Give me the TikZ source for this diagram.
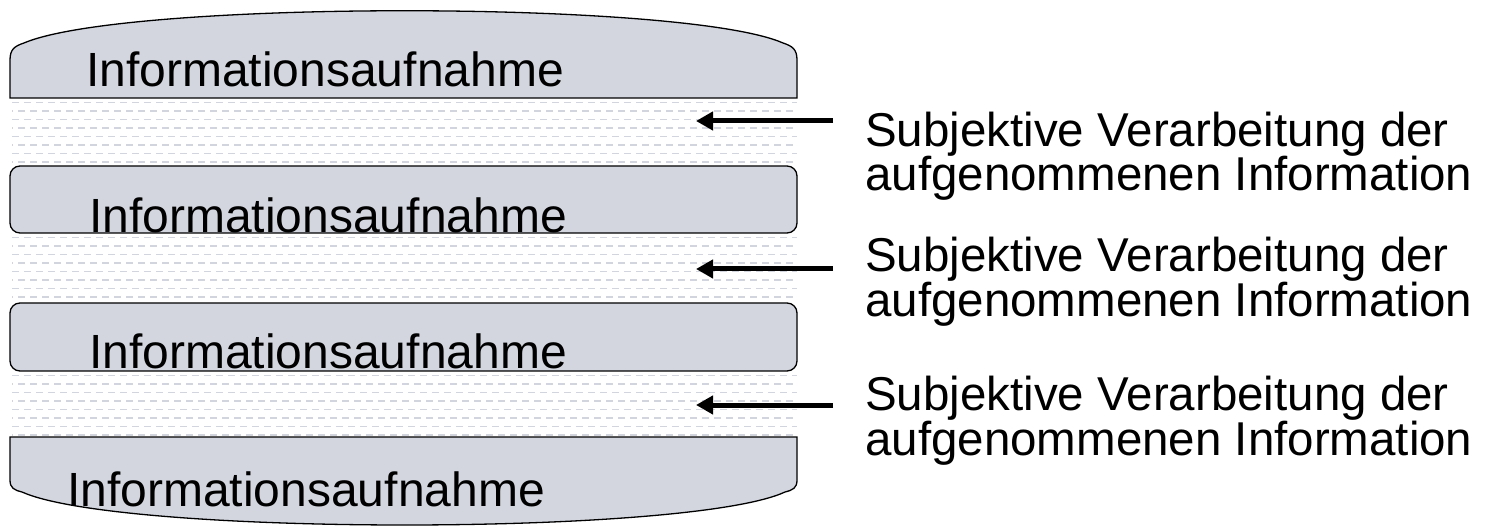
\documentclass[tikz,border=0pt]{standalone}
\usepackage{fontspec}
\setmainfont{Liberation Sans}
\usetikzlibrary{arrows.meta}
\definecolor{layerfill}{RGB}{211,214,223}
\definecolor{hatch}{RGB}{210,213,222}
\tikzset{
  layer/.style={fill=layerfill, draw=black, line width=1.3pt},
  layertext/.style={anchor=base west, inner sep=0pt, font=\fontsize{48}{48}\selectfont},
  note/.style={anchor=base west, inner sep=0pt, font=\fontsize{47.5}{47.5}\selectfont},
  pointer/.style={line width=5pt, -{Triangle[length=17pt,width=18pt]}},
  hatchrow/.style={draw=hatch, line width=1.6pt, dash pattern=on 7pt off 5pt},
}
\begin{document}
\begin{tikzpicture}[x=1pt,y=-1pt]
\useasboundingbox (0,0) rectangle (1488,526);

% dashed processing bands between the layers
\foreach \top in {98,233,371}{
  \foreach \r in {0,...,7}{
    \pgfmathsetmacro\yy{\top+4.5+\r*8.5}
    \pgfmathsetmacro\ph{mod(\r,2)*6}
    \draw[hatchrow, dash phase=\ph pt] (12,\yy) -- (797,\yy);
  }
}

% top layer with arched roof
\draw[layer] (10,98) -- (10,60) .. controls (10,49) and (15,46) .. (24,43)
  .. controls (125,0) and (685,0) .. (783,43)
  .. controls (792,46) and (797,49) .. (797,60) -- (797,98) -- cycle;

% middle layers
\draw[layer, rounded corners=10pt] (10,166) rectangle (797,233);
\draw[layer, rounded corners=10pt] (10,303) rectangle (797,371);

% bottom layer with arched floor
\draw[layer] (10,437) -- (10,480) .. controls (10,488) and (14,490) .. (22,492)
  .. controls (120,536) and (690,536) .. (785,492)
  .. controls (793,490) and (797,488) .. (797,480) -- (797,437) -- cycle;

% layer labels
\node[layertext] (l1) at (86,87) {Informationsaufnahme};
\node[layertext] (l2) at (89,233) {Informationsaufnahme};
\node[layertext] (l3) at (89,369) {Informationsaufnahme};
\node[layertext] (l4) at (67,506) {Informationsaufnahme};

% side notes
\node[note] (n1a) at (865,147) {Subjektive Verarbeitung der};
\node[note] (n1b) at (865,191) {aufgenommenen Information};
\node[note] (n2a) at (865,272) {Subjektive Verarbeitung der};
\node[note] (n2b) at (865,317) {aufgenommenen Information};
\node[note] (n3a) at (865,410) {Subjektive Verarbeitung der};
\node[note] (n3b) at (865,455) {aufgenommenen Information};

% pointers into the bands
\coordinate (p1s) at (833,121); \coordinate (p1e) at (696,121);
\coordinate (p2s) at (833,269); \coordinate (p2e) at (696,269);
\coordinate (p3s) at (833,405); \coordinate (p3e) at (696,405);
\draw[pointer] (p1s) -- (p1e);
\draw[pointer] (p2s) -- (p2e);
\draw[pointer] (p3s) -- (p3e);
\end{tikzpicture}
\end{document}
